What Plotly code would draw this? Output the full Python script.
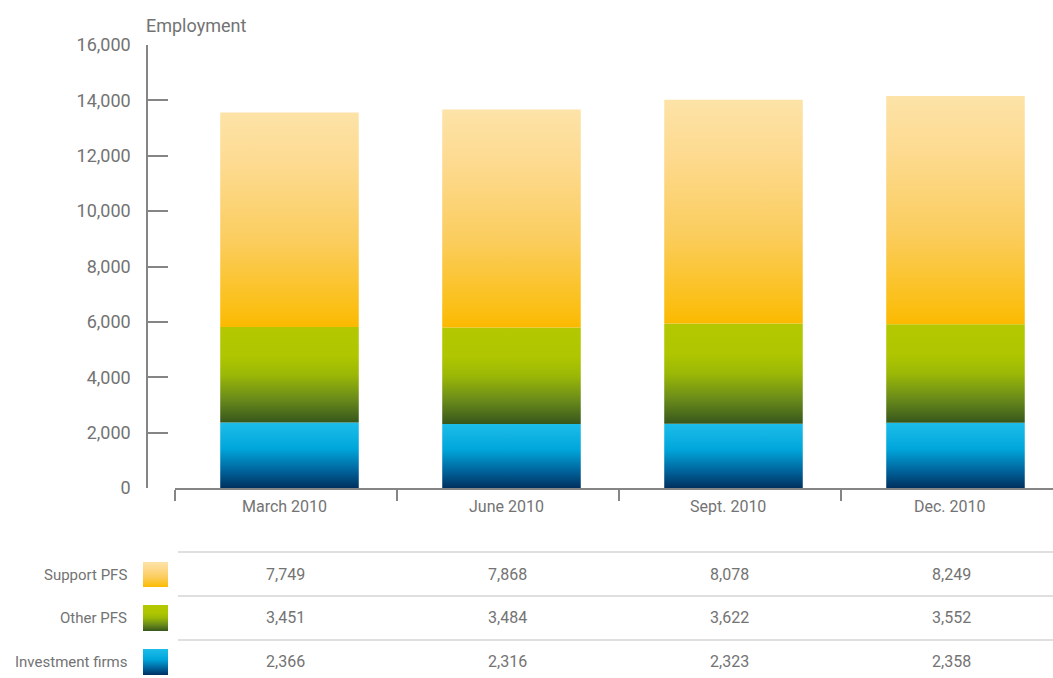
import plotly.graph_objects as go

OFF = 0  # body margin removed via post_script
W, H = 1053, 678

categories = ["March 2010", "June 2010", "Sept. 2010", "Dec. 2010"]
investment_firms = [2366, 2316, 2323, 2358]
other_pfs = [3451, 3484, 3622, 3552]
support_pfs = [7749, 7868, 8078, 8249]
series_names = ["Investment firms", "Other PFS", "Support PFS"]
y_ticks = [0, 2000, 4000, 6000, 8000, 10000, 12000, 14000, 16000]

scales = {
    "Investment firms": [[0, "#00305f"], [0.25, "#006199"], [0.6, "#00a6db"], [1, "#1dbde9"]],
    "Other PFS": [[0, "#37571c"], [0.25, "#6b8c1a"], [0.5, "#9bb806"], [0.7, "#afc600"], [1, "#b3c800"]],
    "Support PFS": [[0, "#fbb900"], [0.08, "#fbbf14"], [0.4, "#fbcd5e"], [0.75, "#fdda8f"], [1, "#fde3a8"]],
}

TXT = "#737373"
AX = "#858585"
FONT = "Roboto"
HALF = 0.312
SHIFT = 0.018
STEP = 222.0
X0 = 174.5


def px(sx):
    return (sx - OFF) / W


def py(sy):
    return 1 - (sy - OFF) / H


fig = go.Figure()

series_values = [investment_firms, other_pfs, support_pfs]
base = [0] * len(categories)
for name, vals in zip(series_names, series_values):
    for i, v in enumerate(vals):
        b, t = base[i], base[i] + v
        c = i + SHIFT
        fig.add_trace(go.Scatter(
            x=[c - HALF, c + HALF, c + HALF, c - HALF, c - HALF],
            y=[b, b, t, t, b],
            mode="lines", line=dict(width=0), fill="toself",
            fillgradient=dict(type="vertical", colorscale=scales[name], start=b, stop=t),
            hoverinfo="skip", showlegend=False, xaxis="x", yaxis="y",
        ))
        base[i] = t

# table rows (top to bottom)
row_order = ["Support PFS", "Other PFS", "Investment firms"]
row_vals = {"Support PFS": support_pfs, "Other PFS": other_pfs, "Investment firms": investment_firms}
row_center_px = [575, 618, 662]
swatch_px = [(562, 587), (605, 631), (649, 675)]
line_px = [552, 596, 640]

for name, (top, bot) in zip(row_order, swatch_px):
    fig.add_trace(go.Scatter(
        x=[143, 168, 168, 143, 143], y=[-bot, -bot, -top, -top, -bot],
        mode="lines", line=dict(width=0), fill="toself",
        fillgradient=dict(type="vertical", colorscale=scales[name], start=-bot, stop=-top),
        hoverinfo="skip", showlegend=False, xaxis="x2", yaxis="y2",
    ))

annotations = []
for name, cy in zip(row_order, row_center_px):
    annotations.append(dict(
        x=px(129), y=py(cy), xref="paper", yref="paper", text=name,
        showarrow=False, xanchor="right", yanchor="middle",
        font=dict(family=FONT, size=15, color=TXT)))
    for i, v in enumerate(row_vals[name]):
        annotations.append(dict(
            x=i, y=py(cy - 1), xref="x", yref="paper", text=f"{v:,}",
            showarrow=False, xanchor="center", yanchor="middle",
            font=dict(family=FONT, size=16, color=TXT)))

for i, c in enumerate(categories):
    annotations.append(dict(
        x=i - 0.005, y=py(506), xref="x", yref="paper", text=c,
        showarrow=False, xanchor="center", yanchor="middle",
        font=dict(family=FONT, size=16, color=TXT)))

annotations.append(dict(
    x=px(144), y=py(25), xref="paper", yref="paper", text="Employment",
    showarrow=False, xanchor="left", yanchor="middle",
    font=dict(family=FONT, size=18, color=TXT)))

shapes = [dict(type="line", xref="paper", yref="paper", x0=px(178), x1=1,
               y0=py(sy), y1=py(sy), line=dict(color="#d4d4d4", width=1.5))
          for sy in line_px]

fig.update_layout(
    width=W, height=H, margin=dict(l=0, r=0, t=0, b=0, autoexpand=False),
    paper_bgcolor="white", plot_bgcolor="rgba(0,0,0,0)",
    showlegend=False, annotations=annotations, shapes=shapes,
    xaxis=dict(domain=[px(X0), 1], range=[-0.5, -0.5 + (W + OFF - X0) / STEP],
               tickvals=[-0.5, 0.5, 1.5, 2.5, 3.5], ticktext=[""] * 5,
               ticks="outside", ticklen=11, tickwidth=1.5, tickcolor=AX,
               showline=True, linecolor=AX, linewidth=1.5, automargin=False,
               showgrid=False, zeroline=False, fixedrange=True, anchor="y"),
    yaxis=dict(domain=[py(488), py(45)], range=[0, 16000],
               tickvals=y_ticks, tickformat=",", ticks="inside", ticklen=20,
               tickwidth=1.5, tickcolor=AX, showline=True, automargin=False,
               linecolor=AX, linewidth=1.5, showgrid=False, zeroline=False,
               anchor="free", position=px(147), ticklabelstandoff=12,
               tickfont=dict(family=FONT, size=18, color=TXT), fixedrange=True),
    xaxis2=dict(domain=[0, 1], range=[OFF, OFF + W], visible=False, anchor="y2",
                fixedrange=True, automargin=False),
    yaxis2=dict(domain=[0, 1], range=[-(OFF + H), -OFF], visible=False, anchor="x2",
                fixedrange=True, automargin=False),
)

fig.write_html("out.html", config={"displayModeBar": False},
               post_script="document.body.style.margin='0';document.body.style.overflow='hidden';")
